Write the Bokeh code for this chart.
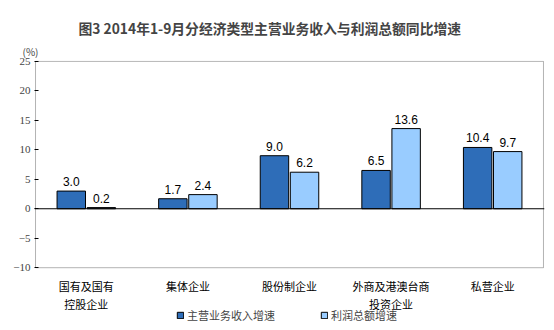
from bokeh.plotting import figure
from bokeh.models import (ColumnDataSource, Span, Legend, LegendItem, FixedTicker, Title,
                          FactorRange, BoxAnnotation)
from bokeh.core.properties import value
from bokeh.transform import dodge
from bokeh.embed import file_html
from bokeh.resources import INLINE

categories = ["国有及国有\n控股企业", "集体企业", "股份制企业", "外商及港澳台商\n投资企业", "私营企业"]
revenue_growth = [3.0, 1.7, 9.0, 6.5, 10.4]
profit_growth = [0.2, 2.4, 6.2, 13.6, 9.7]
y_ticks = [-10, -5, 0, 5, 10, 15, 20, 25]

title_text = "图3 2014年1-9月分经济类型主营业务收入与利润总额同比增速"
unit_text = "(%)"
series_names = ["主营业务收入增速", "利润总额增速"]

y_min, y_max = y_ticks[0], y_ticks[-1]

src = ColumnDataSource(dict(
    cat=categories, rev=revenue_growth, prof=profit_growth,
    rev_lbl=[f"{v:.1f}" for v in revenue_growth],
    prof_lbl=[f"{v:.1f}" for v in profit_growth],
    base=[y_min] * len(categories),
))

CJK = "Noto Sans CJK SC"

# The frame reaches the bottom of the canvas so that category labels and the
# legend can be drawn inside it; the visible plot box is drawn from -10 to 25.
p = figure(width=554, height=330,
           x_range=FactorRange(factors=categories, range_padding=0.004),
           y_range=(-20.65, 25.15), x_axis_location=None,
           output_backend="svg", toolbar_location=None,
           min_border_left=34, min_border_right=10, min_border_top=60, min_border_bottom=0)
p.background_fill_color = "white"
p.border_fill_color = "white"
p.outline_line_color = None
p.xgrid.grid_line_color = None
p.ygrid.grid_line_color = None

# plot box
p.add_layout(BoxAnnotation(left=0, right=len(categories), bottom=y_min, top=y_max,
                           fill_alpha=0, line_color="black", line_width=1))

b1 = p.vbar(x=dodge("cat", -0.148, range=p.x_range), top="rev", bottom=0, width=0.28,
            source=src, fill_color="#2E6DB8", line_color="black", line_width=1)
b2 = p.vbar(x=dodge("cat", 0.148, range=p.x_range), top="prof", bottom=0, width=0.28,
            source=src, fill_color="#99CCFF", line_color="black", line_width=1)

p.text(x=dodge("cat", -0.148, range=p.x_range), y="rev", text="rev_lbl", source=src,
       text_align="center", text_baseline="alphabetic", y_offset=-9.5,
       text_font=value("Liberation Sans"), text_font_size="12px", text_color="black")
p.text(x=dodge("cat", 0.148, range=p.x_range), y="prof", text="prof_lbl", source=src,
       text_align="center", text_baseline="alphabetic", y_offset=-9.5,
       text_font=value("Liberation Sans"), text_font_size="12px", text_color="black")

# category labels below the box
p.text(x="cat", y="base", text="cat", source=src,
       text_align="center", text_baseline="top", y_offset=10,
       text_font=value(CJK), text_font_size="11px", text_line_height=1.15,
       text_color="black")

p.add_layout(Span(location=0, dimension="width", line_color="black", line_width=1))

# y axis
p.yaxis.ticker = FixedTicker(ticks=y_ticks)
p.yaxis.major_tick_in = 4
p.yaxis.major_tick_out = 0
p.yaxis.minor_tick_line_color = None
p.yaxis.axis_line_color = None
p.yaxis.major_label_text_font = "Liberation Serif"
p.yaxis.major_label_text_font_size = "11px"
p.yaxis.major_label_standoff = 4

legend = Legend(items=[LegendItem(label=series_names[0], renderers=[b1]),
                       LegendItem(label=series_names[1], renderers=[b2])],
                orientation="horizontal", location=(142, 7),
                label_text_font=CJK, label_text_font_size="11px",
                label_standoff=3, label_height=10,
                glyph_width=8, glyph_height=8, spacing=45, padding=0, margin=0,
                border_line_color=None, background_fill_alpha=0)
p.add_layout(legend)

# titles: p.title is outermost, added titles sit nearer the frame
p.title.text = title_text
p.title.align = "left"
p.title.offset = 44
p.title.standoff = 4
p.title.text_font = CJK
p.title.text_font_size = "13.8px"
p.title.text_font_style = "bold"
p.add_layout(Title(text=unit_text, align="left", offset=-12, standoff=4,
                   text_font=CJK, text_font_size="10px", text_font_style="normal"), "above")

open("out.html", "w").write(file_html(p, INLINE))
